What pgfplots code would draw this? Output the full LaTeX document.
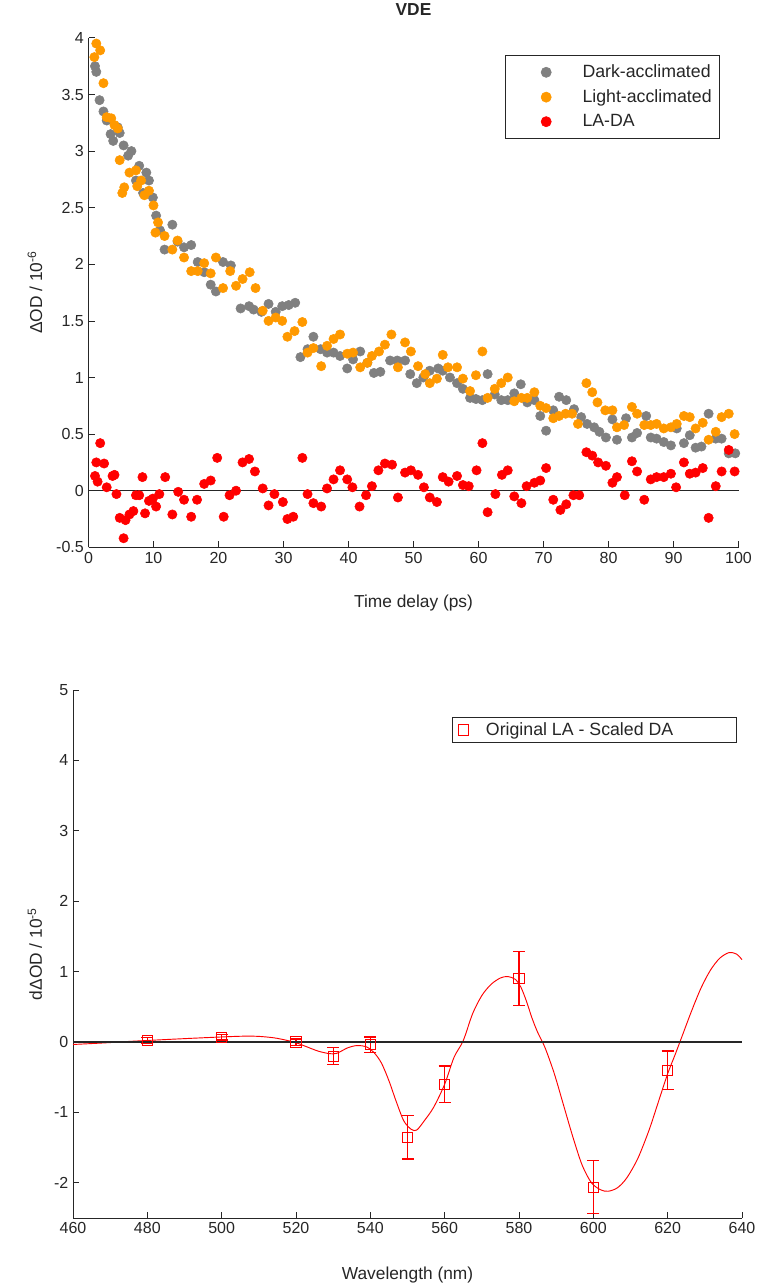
\documentclass[border=0pt]{standalone}
\usepackage{pgfplots}
\pgfplotsset{compat=1.18}
\usepackage{fontspec}
\setmainfont{Liberation Sans}
\definecolor{mgray}{RGB}{128,128,128}
\definecolor{morange}{RGB}{255,153,0}
\definecolor{axcol}{RGB}{38,38,38}
\definecolor{mred}{RGB}{255,0,0}

\pgfplotsset{
  mstyle/.style={
    scale only axis,
    axis lines*=left,
    axis line style={axcol, line width=0.6pt},
    tick style={axcol, line width=0.6pt},
    tick align=inside,
    major tick length=4.5pt,
    ticklabel style={font=\fontsize{12}{14}\selectfont, text=axcol},
    /pgf/number format/assume math mode=true,
    label style={font=\fontsize{13}{15}\selectfont, text=axcol},
    enlargelimits=false,
    clip=false,
  },
}

\begin{document}
\begin{tikzpicture}
\useasboundingbox (0,0) rectangle (567.75pt,-965.25pt);

% ---------------- top panel ----------------
\begin{axis}[mstyle,
  at={(66.375pt,-28.425pt)}, anchor=north west,
  width=487.5pt, height=382.05pt,
  xmin=0, xmax=100, ymin=-0.5, ymax=4,
  xtick={0,10,...,100},
  ytick={-0.5,0,0.5,1,1.5,2,2.5,3,3.5,4},
  yticklabels={-0.5,0,0.5,1,1.5,2,2.5,3,3.5,4},
  xlabel={Time delay (ps)},
  ylabel={ΔOD / 10\textsuperscript{-6}},
  xlabel style={at={(axis description cs:0.5,-0.109)}, anchor=center},
  ylabel style={at={(axis description cs:-0.0823,0.5)}, anchor=center, rotate=0},
  legend style={at={(axis description cs:0.9715,0.966)}, anchor=north east,
    draw=axcol, line width=0.5pt, font=\fontsize{13.3}{15}\selectfont, text=axcol,
    inner xsep=4pt, inner ysep=5pt, row sep=3.5pt, cells={anchor=west}},
  legend image code/.code={\path[draw=none,fill=none] (0pt,0pt) -- (52pt,0pt); \draw[#1, mark size=3.8pt] plot coordinates {(26.75pt,0pt)};},
]
\node[font=\fontsize{13}{15}\selectfont\bfseries, text=axcol, anchor=center] at (axis description cs:0.5,1.0548) {VDE};
\addplot[only marks, mark=*, mark size=3.5pt, color=mgray] coordinates {
(1.0,3.75)(1.2,3.70)(1.7,3.45)(2.3,3.35)(2.8,3.27)(3.4,3.15)(3.8,3.09)(4.5,3.21)(4.8,3.16)
(5.4,3.05)(6.1,2.96)(6.6,3.00)(7.3,2.74)(7.8,2.87)(8.4,2.63)(8.9,2.81)(9.3,2.74)(9.9,2.59)
(10.4,2.43)(11.0,2.30)(11.7,2.13)(12.9,2.35)(13.7,2.20)(14.7,2.15)(15.8,2.17)(16.8,2.02)
(17.8,1.93)(18.8,1.82)(19.6,1.76)(20.7,2.02)(21.9,1.99)(23.4,1.61)(24.7,1.63)(25.4,1.60)
(26.6,1.58)(27.7,1.65)(28.8,1.58)(29.8,1.63)(30.8,1.64)(31.8,1.66)(32.6,1.18)(33.7,1.25)
(34.6,1.36)(35.7,1.25)(36.7,1.22)(37.7,1.22)(38.7,1.19)(39.8,1.08)(40.7,1.16)(41.8,1.23)
(42.9,1.13)(43.9,1.04)(44.9,1.05)(46.4,1.15)(47.5,1.15)(48.7,1.15)(49.5,1.03)(50.5,0.95)
(51.5,1.00)(52.5,1.06)(53.8,1.08)(54.5,1.06)(55.6,1.00)(56.7,0.95)(57.6,0.90)(58.7,0.82)
(59.6,0.81)(60.6,0.80)(61.4,1.03)(62.5,0.85)(63.5,0.80)(64.5,0.80)(65.5,0.86)(66.5,0.94)
(67.5,0.78)(68.6,0.80)(69.5,0.66)(70.4,0.53)(71.5,0.71)(72.4,0.83)(73.5,0.80)(74.7,0.72)
(75.8,0.65)(76.7,0.59)(77.8,0.56)(78.6,0.52)(79.6,0.47)(80.6,0.63)(81.3,0.45)(82.7,0.64)
(83.6,0.47)(84.4,0.51)(85.8,0.66)(86.5,0.47)(87.4,0.46)(88.5,0.43)(89.6,0.40)(90.5,0.55)
(91.6,0.42)(92.5,0.49)(93.4,0.38)(94.3,0.39)(95.4,0.68)(96.5,0.46)(97.4,0.46)(98.5,0.33)
(99.5,0.33)
};
\addlegendentry{Dark-acclimated}
\addplot[only marks, mark=*, mark size=3.5pt, color=morange] coordinates {
(0.9,3.83)(1.2,3.95)(1.8,3.89)(2.3,3.60)(2.8,3.30)(3.5,3.29)(4.0,3.23)(4.5,3.20)(4.8,2.92)
(5.2,2.63)(5.5,2.68)(6.3,2.81)(7.3,2.83)(7.5,2.69)(8.1,2.74)(8.6,2.61)(9.3,2.65)(10.0,2.52)
(10.3,2.28)(10.7,2.37)(11.7,2.25)(12.9,2.13)(13.7,2.21)(14.7,2.06)(15.8,1.94)(16.8,1.94)
(17.8,2.01)(18.8,1.92)(19.6,2.06)(20.7,1.79)(21.8,1.94)(22.7,1.81)(23.7,1.87)(24.8,1.93)
(25.7,1.79)(26.8,1.59)(27.7,1.50)(28.8,1.53)(29.8,1.50)(30.6,1.36)(31.7,1.41)(32.9,1.49)
(33.7,1.22)(34.6,1.26)(35.8,1.10)(36.7,1.28)(37.7,1.34)(38.7,1.38)(39.8,1.21)(40.7,1.22)
(41.8,1.09)(42.9,1.13)(43.6,1.19)(44.7,1.23)(45.6,1.29)(46.6,1.38)(47.6,1.09)(48.7,1.31)
(49.6,1.23)(50.7,1.10)(51.8,1.03)(52.5,0.95)(53.6,0.99)(54.5,1.20)(55.3,1.09)(56.7,1.09)
(57.6,0.99)(58.7,0.88)(59.6,1.02)(60.6,1.23)(61.4,0.82)(62.5,0.90)(63.5,0.95)(64.5,1.00)
(65.5,0.79)(66.6,0.82)(67.5,0.82)(68.6,0.87)(69.5,0.75)(70.4,0.73)(71.5,0.64)(72.4,0.66)
(73.4,0.68)(74.4,0.68)(75.3,0.59)(76.6,0.95)(77.5,0.87)(78.3,0.78)(79.5,0.71)(80.6,0.71)
(81.3,0.56)(82.4,0.58)(83.6,0.74)(84.4,0.68)(85.5,0.58)(86.5,0.58)(87.4,0.59)(88.5,0.55)
(89.6,0.56)(90.5,0.59)(91.6,0.66)(92.5,0.65)(93.4,0.55)(94.5,0.60)(95.4,0.45)(96.5,0.52)
(97.4,0.65)(98.5,0.68)(99.4,0.50)
};
\addlegendentry{Light-acclimated}
\addplot[only marks, mark=*, mark size=3.5pt, color=red] coordinates {
(1.0,0.13)(1.2,0.25)(1.4,0.08)(1.8,0.42)(2.4,0.24)(2.8,0.03)(3.7,0.13)(4.0,0.14)(4.3,-0.03)
(4.8,-0.24)(5.4,-0.42)(5.7,-0.26)(6.3,-0.21)(6.9,-0.18)(7.3,-0.04)(7.8,-0.04)(8.3,0.12)
(8.7,-0.20)(9.3,-0.09)(9.9,-0.07)(10.4,-0.14)(10.9,-0.03)(11.8,0.12)(12.9,-0.21)(13.8,-0.01)
(14.7,-0.08)(15.8,-0.23)(16.7,-0.08)(17.8,0.06)(18.8,0.09)(19.8,0.29)(20.8,-0.23)(21.7,-0.04)
(22.7,0.00)(23.7,0.25)(24.7,0.28)(25.6,0.17)(26.8,0.02)(27.7,-0.13)(28.6,-0.03)(29.9,-0.10)
(30.6,-0.25)(31.5,-0.23)(32.9,0.29)(33.7,-0.03)(34.6,-0.11)(35.8,-0.14)(36.7,0.02)(37.7,0.10)
(38.7,0.18)(39.8,0.10)(40.6,0.03)(41.7,-0.14)(42.7,-0.04)(43.6,0.04)(44.6,0.18)(45.6,0.24)
(46.7,0.23)(47.6,-0.06)(48.7,0.16)(49.6,0.18)(50.7,0.14)(51.6,0.03)(52.5,-0.06)(53.6,-0.10)
(54.5,0.12)(55.4,0.08)(56.7,0.13)(57.6,0.05)(58.5,0.04)(59.7,0.18)(60.6,0.42)(61.4,-0.19)
(62.6,-0.03)(63.6,0.14)(64.5,0.18)(65.5,-0.05)(66.6,-0.11)(67.4,0.04)(68.6,0.07)(69.5,0.09)
(70.4,0.20)(71.5,-0.08)(72.6,-0.17)(73.5,-0.12)(74.6,-0.04)(75.5,-0.04)(76.6,0.34)(77.5,0.31)
(78.4,0.25)(79.6,0.22)(80.6,0.07)(81.3,0.12)(82.5,-0.04)(83.6,0.26)(84.4,0.17)(85.5,-0.08)
(86.5,0.10)(87.4,0.12)(88.5,0.12)(89.6,0.15)(90.4,0.03)(91.6,0.25)(92.5,0.15)(93.4,0.16)
(94.5,0.20)(95.4,-0.24)(96.5,0.04)(97.4,0.17)(98.5,0.36)(99.4,0.17)
};
\addlegendentry{LA-DA}
\addplot[axcol, line width=0.8pt, forget plot] coordinates {(0,0) (100,0)};
\end{axis}

% ---------------- bottom panel ----------------
\begin{axis}[mstyle,
  at={(54.75pt,-517.5pt)}, anchor=north west,
  width=501.75pt, height=396pt,
  xmin=460, xmax=640, ymin=-2.5, ymax=5,
  xtick={460,480,...,640},
  ytick={-2,-1,0,1,2,3,4,5},
  yticklabels={-2,-1,0,1,2,3,4,5},
  xlabel={Wavelength (nm)},
  ylabel={dΔOD / 10\textsuperscript{-5}},
  xlabel style={at={(axis description cs:0.5,-0.1076)}, anchor=center},
  ylabel style={at={(axis description cs:-0.0568,0.5)}, anchor=center, rotate=0},
  legend style={at={(axis description cs:0.9925,0.949)}, anchor=north east,
    draw=axcol, line width=0.5pt, font=\fontsize{13.3}{15}\selectfont, text=axcol,
    inner xsep=2pt, inner ysep=2pt, cells={anchor=west}},
  legend image code/.code={\path[draw=none,fill=none] (0pt,0pt) -- (21pt,0pt); \draw[#1] plot coordinates {(6pt,0pt)};},
]
\addplot[mred, line width=0.7pt, smooth, forget plot] coordinates {
(460,-0.035)(465,-0.022)(470,-0.008)(475,0.008)(480,0.022)(490,0.048)(500,0.072)(506,0.083)
(510,0.08)(514,0.06)(517,0.03)(520,-0.01)(523,-0.07)(526,-0.13)(529,-0.165)(531,-0.16)
(534,-0.08)(536.5,-0.05)(539,-0.07)(541,-0.15)(543,-0.30)(545,-0.55)(547,-0.85)(549,-1.12)
(551,-1.24)(552.5,-1.25)(554.5,-1.12)(557,-0.93)(560,-0.60)(562.5,-0.22)(565,0.02)
(567.5,0.40)(570,0.66)(572.5,0.82)(575,0.91)(577,0.93)(579,0.89)(580.5,0.78)(582,0.58)
(583.5,0.34)(585,0.14)(587,-0.08)(589.5,-0.45)(592,-0.90)(594.5,-1.35)(597,-1.75)
(599.5,-2.00)(602,-2.10)(604,-2.12)(606.5,-2.07)(609,-1.93)(612,-1.65)(615,-1.25)
(617.5,-0.85)(620,-0.45)(622,-0.18)(624,0.10)(626.5,0.45)(629,0.77)(631.5,1.02)(634,1.19)
(636.5,1.27)(638.5,1.25)(640,1.17)
};
\addplot[only marks, mark=square, mark size=3.8pt, color=mred,
  mark options={draw=mred, fill=none, line width=0.7pt},
  error bars/.cd, y dir=both, y explicit,
  error bar style={draw=mred, line width=1pt},
  error mark options={rotate=90, draw=mred, mark size=4.5pt, line width=1pt}]
coordinates {
(480,0.02) +- (0,0.045)
(500,0.07) +- (0,0.04)
(520,0.00) +- (0,0.045)
(530,-0.20) +- (0,0.12)
(540,-0.04) +- (0,0.11)
(550,-1.35) +- (0,0.31)
(560,-0.60) +- (0,0.26)
(580,0.90) +- (0,0.385)
(600,-2.06) +- (0,0.38)
(620,-0.40) +- (0,0.27)
};
\addlegendentry{\makebox[184pt][l]{Original LA - Scaled DA}}
\addplot[axcol, line width=0.8pt, forget plot] coordinates {(460,0) (640,0)};
\end{axis}
\end{tikzpicture}
\end{document}
